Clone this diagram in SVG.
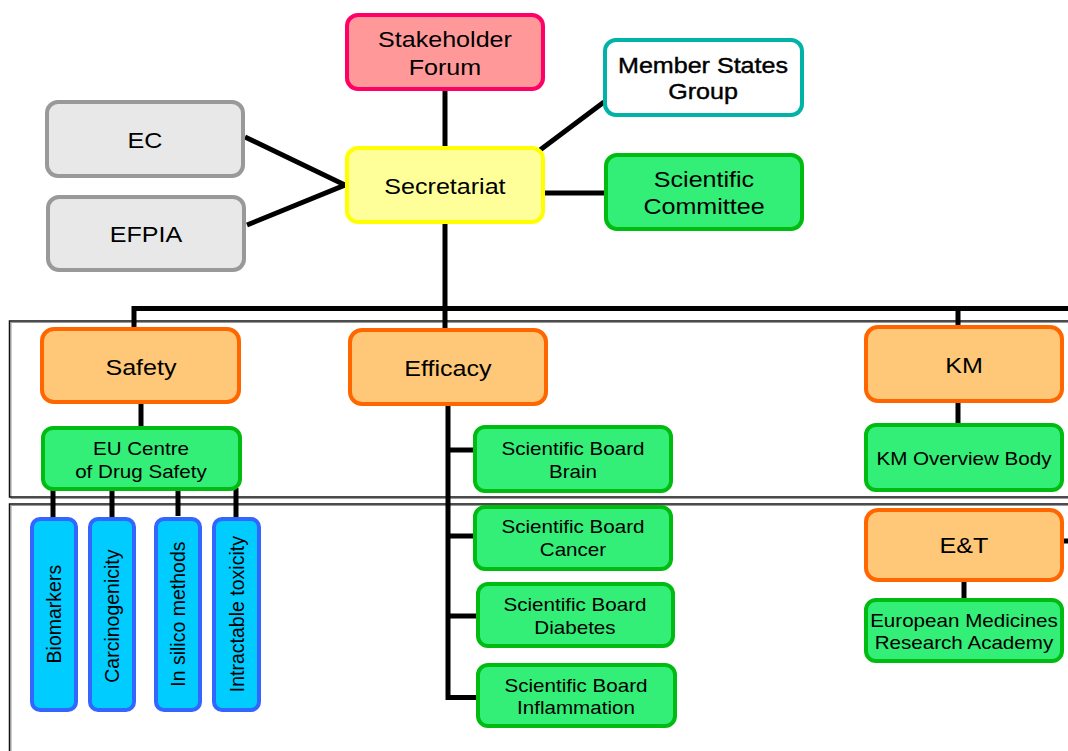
<svg xmlns="http://www.w3.org/2000/svg" width="1068" height="751" viewBox="0 0 1068 751">
  <style>
    .box { stroke-width: 4; }
    .pink { fill: #FF9999; stroke: #FF0066; }
    .teal { fill: #FFFFFF; stroke: #00B3A6; }
    .yellow { fill: #FFFF99; stroke: #FFFF00; }
    .grey { fill: #E8E8E8; stroke: #999999; }
    .green { fill: #33EE77; stroke: #00BB11; }
    .orange { fill: #FFC878; stroke: #FF6600; }
    .blue { fill: #00CCFF; stroke: #3366FF; }
    text { font-family: "Liberation Sans", Arial, sans-serif; fill: #000; text-anchor: middle; }
    .big { font-size: 22px; transform-box: fill-box; transform-origin: center; transform: scaleX(1.14); }
    .small { font-size: 18px; transform-box: fill-box; transform-origin: center; transform: scaleX(1.145); }
    .bold { stroke: #000; stroke-width: 0.4; }
    .vt { font-size: 19.5px; dominant-baseline: central; transform-box: fill-box; transform-origin: center; transform: rotate(-90deg); }
    .conn line, .conn polyline { stroke: #000; stroke-width: 5; fill: none; }
    .frame { fill: none; stroke: #111; stroke-width: 1.5; }
    .shade { fill: none; stroke: #999; stroke-width: 1; }
  </style>

  <!-- section frames -->
  <g id="frames">
    <rect class="shade" x="11" y="322.5" width="1070" height="176"/>
    <rect class="frame" x="9.5" y="321" width="1070" height="176"/>
    <rect class="shade" x="11" y="505.5" width="1070" height="260"/>
    <rect class="frame" x="9.5" y="504" width="1070" height="260"/>
  </g>

  <!-- connectors -->
  <g class="conn" id="connectors">
    <line x1="445" y1="90" x2="445" y2="150"/>
    <line x1="540" y1="150" x2="604" y2="102"/>
    <line x1="544" y1="193" x2="606" y2="193"/>
    <polyline points="245,137 345,185 247,225"/>
    <line x1="445" y1="222" x2="445" y2="330"/>
    <polyline points="134,329 134,308.5 1068,308.5"/>
    <line x1="958" y1="306" x2="958" y2="327"/>
    <line x1="141" y1="402" x2="141" y2="427"/>
    <line x1="53" y1="488" x2="53" y2="518"/>
    <line x1="112" y1="488" x2="112" y2="518"/>
    <line x1="178" y1="488" x2="178" y2="516"/>
    <line x1="236" y1="488" x2="236" y2="518"/>
    <polyline points="448,404 448,697.5 478,697.5"/>
    <line x1="448" y1="450" x2="475" y2="450"/>
    <line x1="448" y1="536" x2="475" y2="536"/>
    <line x1="448" y1="616" x2="478" y2="616"/>
    <line x1="958" y1="401" x2="958" y2="425"/>
    <line x1="964" y1="580" x2="964" y2="600"/>
    <line x1="1062" y1="541" x2="1070" y2="541"/>
  </g>

  <g id="stakeholder-forum">
    <rect class="box pink" x="347" y="15" width="196" height="74" rx="11"/>
    <text class="big" x="445" y="47">Stakeholder</text>
    <text class="big" x="445" y="75">Forum</text>
  </g>

  <g id="member-states-group">
    <rect class="box teal" x="605" y="40" width="197" height="75" rx="11"/>
    <text class="big bold" x="703" y="73">Member States</text>
    <text class="big bold" x="703" y="99">Group</text>
  </g>

  <g id="secretariat">
    <rect class="box yellow" x="347" y="148" width="196" height="74" rx="11"/>
    <text class="big" x="445" y="194">Secretariat</text>
  </g>

  <g id="scientific-committee">
    <rect class="box green" x="606" y="155" width="196" height="74" rx="11"/>
    <text class="big" x="704" y="187">Scientific</text>
    <text class="big" x="704" y="214">Committee</text>
  </g>

  <g id="ec">
    <rect class="box grey" x="47" y="102" width="196" height="74" rx="11"/>
    <text class="big" x="145" y="148">EC</text>
  </g>

  <g id="efpia">
    <rect class="box grey" x="48" y="197" width="196" height="73" rx="11"/>
    <text class="big" x="146" y="242">EFPIA</text>
  </g>

  <g id="safety">
    <rect class="box orange" x="42" y="329" width="197" height="73" rx="12"/>
    <text class="big" x="141" y="375">Safety</text>
  </g>

  <g id="efficacy">
    <rect class="box orange" x="350" y="330" width="196" height="74" rx="12"/>
    <text class="big" x="448" y="376">Efficacy</text>
  </g>

  <g id="km">
    <rect class="box orange" x="866" y="327" width="196" height="74" rx="12"/>
    <text class="big" x="964" y="373">KM</text>
  </g>

  <g id="eu-centre">
    <rect class="box green" x="43" y="428" width="197" height="61" rx="10"/>
    <text class="small" x="141" y="455">EU Centre</text>
    <text class="small" x="141" y="478">of Drug Safety</text>
  </g>

  <g id="biomarkers">
    <rect class="box blue" x="32" y="519" width="44" height="191" rx="8"/>
    <text class="vt" x="54" y="614">Biomarkers</text>
  </g>

  <g id="carcinogenicity">
    <rect class="box blue" x="90" y="519" width="44" height="191" rx="8"/>
    <text class="vt" x="112" y="616">Carcinogenicity</text>
  </g>

  <g id="in-silico-methods">
    <rect class="box blue" x="156" y="519" width="44" height="191" rx="8"/>
    <text class="vt" x="178" y="614">In silico methods</text>
  </g>

  <g id="intractable-toxicity">
    <rect class="box blue" x="214" y="519" width="45" height="191" rx="8"/>
    <text class="vt" x="236.5" y="614">Intractable toxicity</text>
  </g>

  <g id="board-brain">
    <rect class="box green" x="475" y="427" width="196" height="64" rx="10"/>
    <text class="small" x="573" y="455">Scientific Board</text>
    <text class="small" x="573" y="478">Brain</text>
  </g>

  <g id="board-cancer">
    <rect class="box green" x="475" y="507" width="196" height="62" rx="10"/>
    <text class="small" x="573" y="533">Scientific Board</text>
    <text class="small" x="573" y="556">Cancer</text>
  </g>

  <g id="board-diabetes">
    <rect class="box green" x="478" y="584" width="195" height="62" rx="10"/>
    <text class="small" x="575" y="611">Scientific Board</text>
    <text class="small" x="575" y="634">Diabetes</text>
  </g>

  <g id="board-inflammation">
    <rect class="box green" x="478" y="665" width="197" height="61" rx="10"/>
    <text class="small" x="576" y="692">Scientific Board</text>
    <text class="small" x="576" y="714">Inflammation</text>
  </g>

  <g id="km-overview-body">
    <rect class="box green" x="866" y="425" width="196" height="65" rx="10"/>
    <text class="small" x="964" y="465">KM Overview Body</text>
  </g>

  <g id="e-and-t">
    <rect class="box orange" x="866" y="510" width="196" height="70" rx="12"/>
    <text class="big" x="964" y="553">E&amp;T</text>
  </g>

  <g id="emra">
    <rect class="box green" x="866" y="600" width="196" height="61" rx="10"/>
    <text class="small" x="964" y="627">European Medicines</text>
    <text class="small" x="964" y="649">Research Academy</text>
  </g>
</svg>
